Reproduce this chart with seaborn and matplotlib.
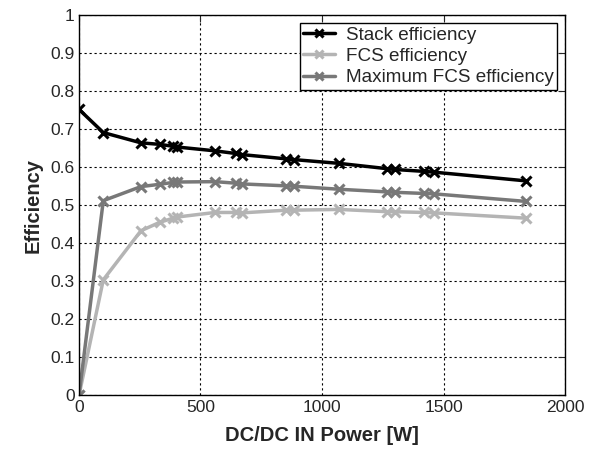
import matplotlib
matplotlib.use("Agg")
import matplotlib.pyplot as plt
import seaborn as sns
import pandas as pd

power = [0, 100, 255, 332, 387, 404, 559, 645, 672, 851, 883, 1071, 1269, 1299, 1420, 1460, 1840]
stack_eff = [0.752, 0.691, 0.664, 0.660, 0.655, 0.653, 0.643, 0.636, 0.633, 0.622, 0.620, 0.610, 0.596, 0.594, 0.589, 0.587, 0.564]
fcs_eff = [0.0, 0.304, 0.433, 0.455, 0.466, 0.469, 0.481, 0.481, 0.480, 0.487, 0.487, 0.489, 0.483, 0.483, 0.481, 0.480, 0.466]
max_fcs_eff = [0.0, 0.512, 0.549, 0.555, 0.560, 0.561, 0.562, 0.558, 0.556, 0.551, 0.550, 0.542, 0.535, 0.534, 0.531, 0.530, 0.510]

labels = ["Stack efficiency", "FCS efficiency", "Maximum FCS efficiency"]
colors = ["#000000", "#b4b4b4", "#787878"]
x_ticks = [0, 500, 1000, 1500, 2000]
y_ticks = [0, 0.1, 0.2, 0.3, 0.4, 0.5, 0.6, 0.7, 0.8, 0.9, 1.0]
y_ticklabels = ["0", "0.1", "0.2", "0.3", "0.4", "0.5", "0.6", "0.7", "0.8", "0.9", "1"]

sns.set_style("white")
plt.rcParams["font.family"] = ["Liberation Sans", "DejaVu Sans"]

fig = plt.figure(figsize=(5.93, 4.57), dpi=100)
ax = fig.add_axes([0.1332, 0.1346, 0.8196, 0.8326])

for series, lab, col in zip([stack_eff, fcs_eff, max_fcs_eff], labels, colors):
    df = pd.DataFrame({"power": power, "eff": series})
    sns.lineplot(data=df, x="power", y="eff", color=col, label=lab,
                 marker="x", markersize=7.5, markeredgewidth=2.2, markeredgecolor=col,
                 linewidth=2.5, linestyle="-", ax=ax, sort=False, estimator=None)

ax.set_xlim(0, 2000)
ax.set_ylim(0, 1)
ax.set_xticks(x_ticks)
ax.set_xticklabels([str(t) for t in x_ticks], fontsize=12.5)
ax.set_yticks(y_ticks)
ax.set_yticklabels(y_ticklabels, fontsize=12.5)
ax.grid(True, linestyle=(0, (2, 2.5)), color="black", linewidth=0.8)
ax.tick_params(direction="in", top=True, right=True, length=5, width=0.8, pad=3)
for s in ax.spines.values():
    s.set_color("black")
    s.set_linewidth(1.0)
    s.set_visible(True)

ax.set_xlabel("DC/DC IN Power [W]", fontsize=14.5, fontweight="bold", labelpad=8)
ax.set_ylabel("Efficiency", fontsize=14.5, fontweight="bold", labelpad=6)

leg = ax.legend(loc="upper right", fontsize=13.6, frameon=True, fancybox=False,
                edgecolor="black", framealpha=1, borderpad=0.2, labelspacing=0.22,
                handlelength=1.7, handletextpad=0.55, borderaxespad=0.4,
                markerscale=0.8)
leg.get_frame().set_linewidth(1.0)

fig.savefig("out.png", dpi=100)
